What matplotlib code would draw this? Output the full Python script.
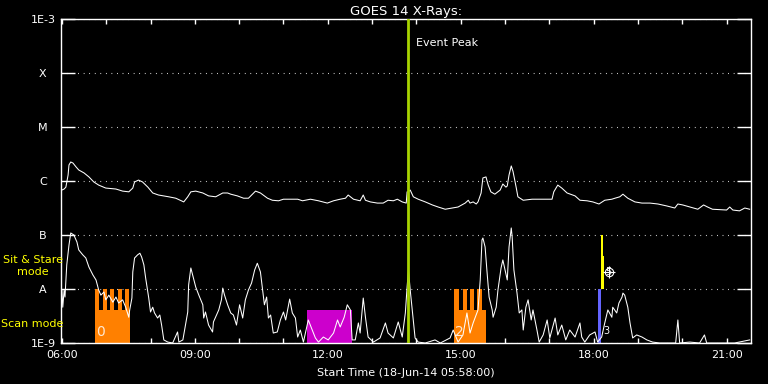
import matplotlib
matplotlib.use("Agg")
import matplotlib.pyplot as plt
from matplotlib.ticker import FixedLocator, NullLocator, MultipleLocator, FuncFormatter

# time in decimal hours (18-Jun-2014), flux in W/m^2
t_long = [6.00, 6.05, 6.09, 6.14, 6.16, 6.20, 6.25, 6.32, 6.38, 6.50, 6.61, 6.72, 6.83, 6.99,
          7.22, 7.37, 7.51, 7.60, 7.64, 7.73, 7.82, 7.94, 8.05, 8.18, 8.41, 8.57, 8.75, 8.84,
          8.91, 9.02, 9.18, 9.31, 9.47, 9.63, 9.74, 9.81, 9.96, 10.10, 10.21, 10.37, 10.48,
          10.64, 10.75, 10.89, 11.00, 11.32, 11.43, 11.61, 11.79, 11.99, 12.13, 12.28, 12.40,
          12.46, 12.58, 12.73, 12.80, 12.85, 12.96, 13.12, 13.25, 13.36, 13.48, 13.57, 13.68,
          13.77, 13.79, 13.82, 13.86, 13.93, 14.04, 14.20, 14.36, 14.49, 14.65, 14.81, 14.94,
          15.10, 15.17, 15.21, 15.28, 15.35, 15.39, 15.46, 15.50, 15.57, 15.62, 15.68, 15.77,
          15.89, 15.95, 16.02, 16.05, 16.09, 16.14, 16.18, 16.25, 16.29, 16.41, 16.61, 16.83,
          17.06, 17.10, 17.19, 17.28, 17.40, 17.58, 17.69, 17.85, 17.98, 18.12, 18.25, 18.41,
          18.48, 18.59, 18.66, 18.77, 18.93, 19.09, 19.27, 19.45, 19.65, 19.83, 19.90, 20.01,
          20.17, 20.35, 20.48, 20.57, 20.68, 21.00, 21.07, 21.14, 21.29, 21.41, 21.52]
f_long = [6.8e-7, 7.1e-7, 7.7e-7, 1.29e-6, 1.98e-6, 2.25e-6, 2.15e-6, 1.82e-6, 1.6e-6, 1.41e-6,
          1.19e-6, 9.6e-7, 8.4e-7, 7.4e-7, 7.1e-7, 6.5e-7, 6.3e-7, 7.4e-7, 9.6e-7, 1.04e-6,
          9.6e-7, 7.7e-7, 6.0e-7, 5.5e-7, 5.1e-7, 4.8e-7, 4.1e-7, 5.1e-7, 6.3e-7, 6.5e-7,
          6.0e-7, 5.3e-7, 5.1e-7, 6.0e-7, 6.0e-7, 5.7e-7, 5.3e-7, 4.8e-7, 4.8e-7, 6.5e-7,
          6.0e-7, 4.8e-7, 4.4e-7, 4.3e-7, 4.6e-7, 4.6e-7, 4.3e-7, 4.6e-7, 4.3e-7, 3.9e-7,
          4.3e-7, 4.6e-7, 4.8e-7, 5.5e-7, 4.6e-7, 4.3e-7, 5.5e-7, 4.4e-7, 4.1e-7, 3.9e-7,
          3.9e-7, 4.4e-7, 4.3e-7, 4.6e-7, 4.1e-7, 3.9e-7, 6.3e-7, 6.3e-7, 6.8e-7, 5.1e-7,
          4.6e-7, 4.1e-7, 3.6e-7, 3.3e-7, 3.0e-7, 3.16e-7, 3.3e-7, 3.9e-7, 4.4e-7, 3.9e-7,
          4.1e-7, 3.75e-7, 4.1e-7, 6.0e-7, 1.14e-6, 1.19e-6, 8.4e-7, 6.3e-7, 5.7e-7, 6.8e-7,
          8.8e-7, 7.7e-7, 8.1e-7, 1.29e-6, 1.9e-6, 1.5e-6, 7.7e-7, 5.1e-7, 4.4e-7, 4.6e-7,
          4.6e-7, 4.6e-7, 6.3e-7, 8.4e-7, 7.4e-7, 6.0e-7, 5.3e-7, 4.4e-7, 4.3e-7, 4.1e-7,
          3.75e-7, 4.4e-7, 4.6e-7, 4.8e-7, 5.1e-7, 5.7e-7, 4.8e-7, 4.1e-7, 3.9e-7, 3.9e-7,
          3.75e-7, 3.45e-7, 3.16e-7, 3.75e-7, 3.6e-7, 3.3e-7, 3.0e-7, 3.6e-7, 3.3e-7, 3.0e-7,
          2.9e-7, 3.3e-7, 2.9e-7, 2.8e-7, 3.16e-7, 3.0e-7]

t_short = [6.00, 6.02, 6.05, 6.07, 6.11, 6.16, 6.20, 6.27, 6.34, 6.38, 6.47, 6.54, 6.61, 6.70,
           6.77, 6.83, 6.88, 6.95, 6.99, 7.06, 7.15, 7.22, 7.28, 7.37, 7.44, 7.51, 7.53, 7.58,
           7.60, 7.64, 7.71, 7.76, 7.80, 7.85, 7.89, 7.96, 8.00, 8.05, 8.09, 8.16, 8.21, 8.25,
           8.30, 8.39, 8.50, 8.61, 8.64, 8.73, 8.84, 8.86, 8.91, 8.95, 9.02, 9.09, 9.18, 9.20,
           9.24, 9.31, 9.40, 9.42, 9.49, 9.54, 9.60, 9.63, 9.67, 9.74, 9.81, 9.87, 9.94, 10.01,
           10.08, 10.14, 10.21, 10.28, 10.35, 10.41, 10.48, 10.53, 10.57, 10.62, 10.66, 10.71,
           10.77, 10.86, 10.93, 11.00, 11.05, 11.14, 11.20, 11.27, 11.32, 11.38, 11.45, 11.56,
           11.65, 11.72, 11.79, 11.90, 12.01, 12.13, 12.22, 12.28, 12.37, 12.44, 12.51, 12.55,
           12.62, 12.69, 12.73, 12.80, 12.85, 12.91, 13.03, 13.18, 13.30, 13.36, 13.48, 13.59,
           13.68, 13.75, 13.79, 13.82, 13.86, 13.93, 13.97, 14.04, 14.20, 14.42, 14.54, 14.76,
           14.83, 14.94, 15.05, 15.14, 15.21, 15.28, 15.39, 15.44, 15.48, 15.50, 15.55, 15.59,
           15.64, 15.71, 15.73, 15.80, 15.84, 15.91, 15.95, 16.00, 16.05, 16.09, 16.14, 16.16,
           16.20, 16.27, 16.32, 16.38, 16.41, 16.47, 16.52, 16.59, 16.63, 16.72, 16.77, 16.86,
           16.95, 17.01, 17.13, 17.19, 17.28, 17.37, 17.46, 17.58, 17.69, 17.73, 17.80, 17.91,
           18.03, 18.09, 18.18, 18.25, 18.32, 18.41, 18.43, 18.52, 18.57, 18.64, 18.66, 18.70,
           18.77, 18.82, 18.88, 18.97, 19.09, 19.20, 19.33, 19.49, 19.72, 19.85, 19.90, 19.94,
           20.17, 20.39, 20.50, 20.55, 20.84, 21.18, 21.52]
f_short = [9.6e-9, 4.6e-9, 9.6e-9, 7.1e-9, 2.8e-8, 6.5e-8, 1.09e-7, 1.0e-7, 7.4e-8, 5.3e-8,
           4.3e-8, 3.75e-8, 2.55e-8, 1.82e-8, 1.47e-8, 9.6e-9, 7.7e-9, 8.8e-9, 6.3e-9, 7.7e-9,
           5.7e-9, 7.1e-9, 5.5e-9, 6.3e-9, 4.6e-9, 3.0e-9, 4.1e-9, 6.8e-9, 2.07e-8, 3.75e-8,
           4.3e-8, 4.6e-8, 3.9e-8, 2.8e-8, 1.6e-8, 6.8e-9, 3.75e-9, 4.6e-9, 3.6e-9, 2.9e-9,
           3.3e-9, 2.15e-9, 1.14e-9, 1.04e-9, 1.0e-9, 1.6e-9, 1.04e-9, 1.14e-9, 3.75e-9, 1.19e-8,
           2.45e-8, 1.82e-8, 1.09e-8, 7.7e-9, 5.1e-9, 2.9e-9, 3.75e-9, 2.15e-9, 1.6e-9, 2.45e-9,
           3.3e-9, 4.1e-9, 6.3e-9, 1.04e-8, 7.7e-9, 5.1e-9, 3.6e-9, 3.3e-9, 2.15e-9, 5.1e-9,
           2.9e-9, 6.3e-9, 9.6e-9, 1.29e-8, 2.25e-8, 3.0e-8, 2.07e-8, 9.6e-9, 5.1e-9, 7.1e-9,
           2.9e-9, 3.3e-9, 1.53e-9, 1.6e-9, 2.67e-9, 3.75e-9, 2.67e-9, 6.5e-9, 3.6e-9, 2.9e-9,
           1.29e-9, 1.74e-9, 1.04e-9, 2.67e-9, 1.74e-9, 1.24e-9, 1.04e-9, 1.29e-9, 1.14e-9,
           1.53e-9, 2.67e-9, 1.98e-9, 3.0e-9, 5.1e-9, 4.1e-9, 1.14e-9, 1.14e-9, 2.35e-9,
           1.53e-9, 6.8e-9, 3.0e-9, 1.29e-9, 1.04e-9, 1.24e-9, 2.35e-9, 1.53e-9, 1.24e-9,
           2.45e-9, 1.29e-9, 3.6e-9, 1.09e-8, 2.25e-8, 9.6e-9, 2.67e-9, 1.24e-9, 1.04e-9,
           1.0e-9, 1.14e-9, 1.0e-9, 1.24e-9, 1.74e-9, 1.04e-9, 1.41e-9, 3.6e-9, 1.53e-9,
           2.35e-9, 4.1e-9, 1.47e-8, 8.1e-8, 8.8e-8, 6.0e-8, 2.25e-8, 7.1e-9, 4.1e-9, 3.0e-9,
           4.6e-9, 9.6e-9, 2.45e-8, 3.45e-8, 2.25e-8, 1.47e-8, 6.0e-8, 1.35e-7, 9.4e-8, 2.25e-8,
           8.4e-9, 3.6e-9, 4.1e-9, 1.74e-9, 4.6e-9, 6.3e-9, 2.67e-9, 4.1e-9, 1.74e-9, 1.04e-9,
           1.41e-9, 2.67e-9, 1.24e-9, 2.9e-9, 1.41e-9, 2.15e-9, 1.14e-9, 1.74e-9, 1.29e-9,
           2.35e-9, 1.29e-9, 1.04e-9, 1.41e-9, 1.6e-9, 1.04e-9, 1.29e-9, 2.35e-9, 4.1e-9,
           3.0e-9, 4.6e-9, 3.6e-9, 5.5e-9, 7.1e-9, 8.4e-9, 7.7e-9, 4.6e-9, 2.35e-9, 1.24e-9,
           1.41e-9, 1.29e-9, 1.14e-9, 1.04e-9, 1.0e-9, 1.0e-9, 1.0e-9, 2.67e-9, 1.0e-9,
           1.04e-9, 1.0e-9, 1.41e-9, 1.0e-9, 1.0e-9, 1.0e-9, 1.14e-9]

# observation blocks (scan mode): start, end, label, raster starts
scan_start = [6.74, 14.85]
scan_end = [7.53, 15.57]
scan_label = ['0', '2']
scan_rasters = [[6.74, 6.92, 7.08, 7.26, 7.42], [14.85, 15.05, 15.21, 15.37]]
raster_width = 0.10
other_start, other_end = 11.52, 12.55
sns_time = 18.16
event_peak = 13.82

y_ticks = [1e-3, 1e-4, 1e-5, 1e-6, 1e-7, 1e-8, 1e-9]
y_labels = ['1E-3', 'X', 'M', 'C', 'B', 'A', '1E-9']

fig = plt.figure(figsize=(7.68, 3.84), dpi=100, facecolor='black')
ax = fig.add_axes([61/768, 1-343/384, 690/768, 324/384], facecolor='black')
ax.set_yscale('log')
ax.set_ylim(1e-9, 1e-3)
ax.set_xlim(5.98, 21.55)

# scan mode blocks
for s, e, lab, rast in zip(scan_start, scan_end, scan_label, scan_rasters):
    ax.fill_between([s, e], 1e-9, 4.1e-9, color='#ff8000', lw=0, zorder=2)
    for r in rast:
        ax.fill_between([r, r + raster_width], 1e-9, 1e-8, color='#ff8000', lw=0, zorder=2)
    ax.text(s + 0.03, 1.6e-9, lab, color='#ffe8d0', fontsize=10, ha='left', va='center', zorder=4)
ax.fill_between([other_start, other_end], 1e-9, 4.1e-9, color='#cc00cc', lw=0, zorder=2)

# sit & stare + blue marker
ax.fill_between([sns_time - 0.06, sns_time], 1e-9, 1e-8, color='#6464ff', lw=0, zorder=2)
ax.fill_between([sns_time, sns_time + 0.05], 1e-8, 1e-7, color='#ffff00', lw=0, zorder=2)
ax.fill_between([sns_time + 0.05, sns_time + 0.08], 1e-8, 4.1e-8, color='#ffff00', lw=0, zorder=2)
ax.text(sns_time + 0.06, 1.7e-9, '3', color='white', fontsize=7, ha='left', va='center', zorder=4)
ax.text(sns_time + 0.09, 2.1e-8, '5', color='white', fontsize=7, ha='left', va='center', zorder=4)
ax.plot([sns_time + 0.18], [2.1e-8], marker='o', ms=6, mfc='none', mec='white', mew=0.8, zorder=4)
ax.plot([sns_time + 0.18], [2.1e-8], marker='+', ms=9, mec='white', mew=0.8, zorder=4)

ax.plot(t_long, f_long, color='white', lw=0.75, zorder=3)
ax.plot(t_short, f_short, color='white', lw=0.75, zorder=3)

ax.axvline(event_peak, color='#a8d400', lw=2, zorder=5)
ax.text(event_peak + 0.16, 3.6e-4, 'Event Peak', color='white', fontsize=8, ha='left', va='center')

# axes styling
for sp in ax.spines.values():
    sp.set_color('white')
    sp.set_linewidth(1)
ax.yaxis.set_major_locator(FixedLocator(y_ticks))
ax.yaxis.set_minor_locator(NullLocator())
ax.set_yticklabels(y_labels)
for lab in ax.get_yticklabels():
    lab.set_horizontalalignment('center')
ax.tick_params(axis='y', which='major', direction='in', length=10, width=1, colors='white',
               left=True, right=True, labelsize=8, pad=13)
ax.xaxis.set_major_locator(MultipleLocator(3))
ax.xaxis.set_minor_locator(MultipleLocator(1))
ax.xaxis.set_major_formatter(FuncFormatter(lambda v, p: '%02d:00' % int(round(v))))
ax.tick_params(axis='x', which='both', direction='in', length=3.6, width=1, colors='white',
               top=True, bottom=True, labelsize=8, pad=5)
ax.grid(axis='y', color='white', linestyle=(0, (0.7, 4.3)), linewidth=0.8)
ax.set_axisbelow(True)

ax.set_title('GOES 14 X-Rays:', color='white', fontsize=9.5, pad=3)
ax.set_xlabel('Start Time (18-Jun-14 05:58:00)', color='white', fontsize=8, labelpad=6)

fig.text(33/768, 1-266/384, 'Sit & Stare\nmode', color='#ffff00', fontsize=8,
         ha='center', va='center', multialignment='center')
fig.text(1/768, 1-324/384, 'Scan mode', color='#ffff00', fontsize=8, ha='left', va='center')

fig.savefig('out.png', dpi=100, facecolor='black')
